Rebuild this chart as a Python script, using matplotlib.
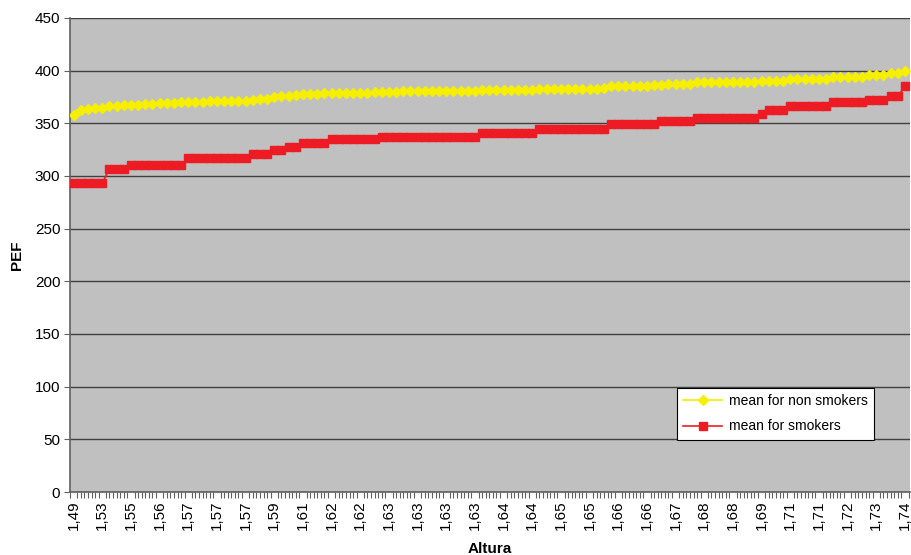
import matplotlib
matplotlib.use("Agg")
import matplotlib.pyplot as plt
import numpy as np

plt.rcParams['font.family'] = ['Liberation Sans', 'DejaVu Sans']

# ---- data (117 ordered heights) ----
non_smokers = [
    358, 363, 364, 364.5, 365, 366, 366.5, 367, 367, 367.5,
    368, 368.5, 369, 369, 369.5, 370, 370, 370.5, 370.5, 371,
    371, 371, 371.5, 371.5, 371.5, 372, 373, 373.5, 375, 375.5,
    376, 377, 377.5, 378, 378, 378.5, 379, 379, 379, 379,
    379, 379, 380, 380, 380, 380, 380.5, 380.5, 380.5, 380.5,
    380.5, 380.5, 381, 381, 381, 381, 381, 382, 382, 382,
    382, 382, 382, 382, 382, 383, 383, 383, 383, 383,
    383, 383, 383, 383, 383.5, 385, 385, 385, 385, 385,
    385, 386, 386.5, 387, 387, 387, 387, 389, 389, 389,
    389, 389, 389, 389, 389, 389, 390.5, 390.5, 390.5, 390.5,
    392, 392, 392, 392, 392, 392, 394, 394, 394, 394,
    394, 395.5, 395.5, 395.5, 397.5, 397.5, 400,
]

smokers = [
    293, 293, 293, 293, 293, 307, 307, 307, 310, 310,
    310, 310, 310, 310, 310, 310, 317, 317, 317, 317,
    317, 317, 317, 317, 317, 321, 321, 321, 325, 325,
    328, 328, 331, 331, 331, 331, 335, 335, 335, 335,
    335, 335, 335, 337, 337, 337, 337, 337, 337, 337,
    337, 337, 337, 337, 337, 337, 337, 341, 341, 341,
    341, 341, 341, 341, 341, 345, 345, 345, 345, 345,
    345, 345, 345, 345, 345, 349, 349, 349, 349, 349,
    349, 349, 352, 352, 352, 352, 352, 355, 355, 355,
    355, 355, 355, 355, 355, 355, 359, 363, 363, 363,
    366, 366, 366, 366, 366, 366, 370, 370, 370, 370,
    370, 372, 372, 372, 376, 376, 385,
]

# Labels shown on the axis (every 4th category)
tick_labels = [
    "1,49", "1,53", "1,55", "1,56", "1,57", "1,57", "1,57", "1,59", "1,61", "1,62",
    "1,62", "1,63", "1,63", "1,63", "1,63", "1,64", "1,64", "1,65", "1,65", "1,66",
    "1,66", "1,67", "1,68", "1,68", "1,69", "1,71", "1,71", "1,72", "1,73", "1,74",
]
label_step = 4

series_names = ["mean for non smokers", "mean for smokers"]

# ---- figure ----
fig = plt.figure(figsize=(9.12, 5.55), dpi=100)
ax = fig.add_axes([70 / 912, 63 / 555, 840 / 912, 474 / 555])
ax.set_facecolor("#C0C0C0")

x = np.arange(len(non_smokers))
ax.plot(x, non_smokers, color="#F7EF00", marker="D", markersize=5.2,
        linewidth=1.2, label=series_names[0], zorder=3)
ax.plot(x, smokers, color="#ED1C24", marker="s", markersize=6.0,
        linewidth=1.2, label=series_names[1], zorder=3)

ax.set_xlim(-0.5, len(non_smokers) - 0.3)
ax.set_ylim(0, 450)
ax.set_yticks(np.arange(0, 451, 50))
ax.grid(axis="y", color="#404040", linewidth=1.0, zorder=1)
ax.set_axisbelow(True)

ax.set_xticks(x[::label_step])
ax.set_xticklabels(tick_labels, rotation=90, fontsize=11)
ax.set_xticks(np.arange(-0.5, len(non_smokers), 0.5), minor=True)
ax.tick_params(axis="x", which="major", length=0, pad=6)
ax.tick_params(axis="x", which="minor", length=4, color="#606060", width=0.8)
ax.tick_params(axis="y", labelsize=11, length=4, color="#606060", pad=3)

for side in ["top", "right"]:
    ax.spines[side].set_visible(False)
for side in ["left", "bottom"]:
    ax.spines[side].set_color("#606060")
    ax.spines[side].set_linewidth(1.2)

ax.set_ylabel("PEF", fontsize=11, fontweight="bold", labelpad=8)
ax.set_xlabel("Altura", fontsize=11, fontweight="bold", labelpad=9)

leg = ax.legend(loc="upper left", bbox_to_anchor=(0.7226, 0.2194),
                fontsize=10, frameon=True, fancybox=False,
                edgecolor="black", facecolor="white", framealpha=1,
                borderpad=0.45, handlelength=2.8, labelspacing=0.8,
                handletextpad=0.5, borderaxespad=0)
leg.get_frame().set_linewidth(0.8)

fig.savefig("out.png", dpi=100)
